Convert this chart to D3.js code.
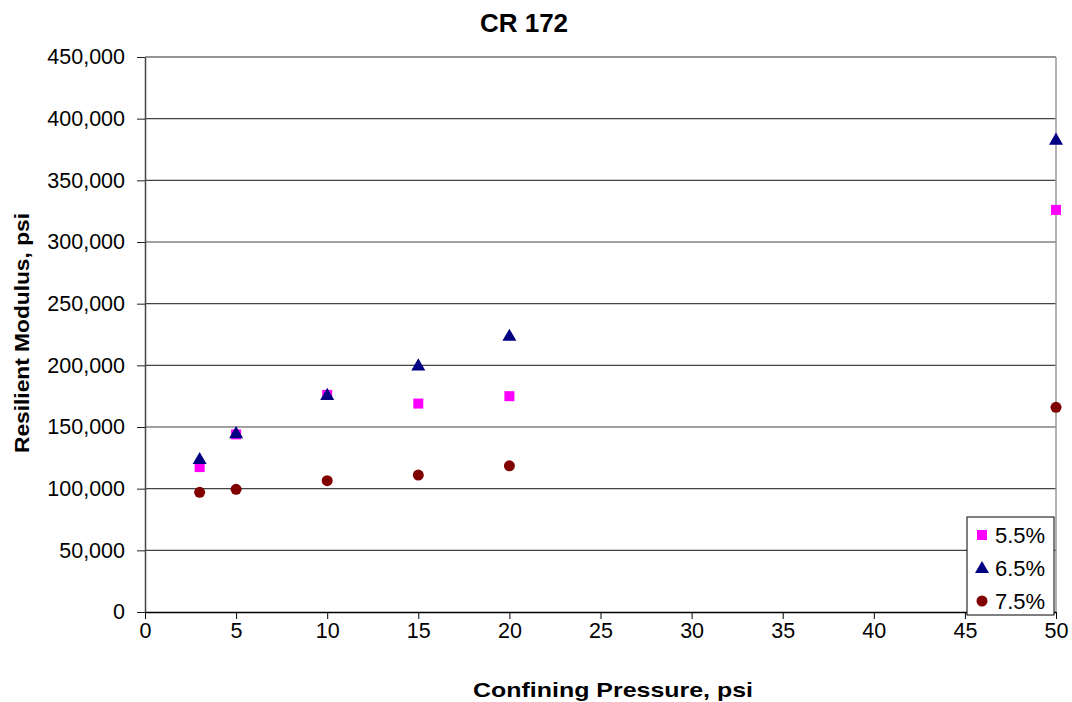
<!DOCTYPE html>
<html><head><meta charset="utf-8">
<script src="https://cdn.jsdelivr.net/npm/d3@7/dist/d3.min.js"></script>
<style>body{margin:0;background:#fff;font-family:"Liberation Sans",Arial,sans-serif;}</style>
</head><body><svg id="c" width="1072" height="702"></svg>
<script>
const xPressure = [3, 5, 10, 15, 20, 50];
const s55 = [117500, 144000, 176000, 169000, 175000, 326000];
const s65 = [124000, 145000, 176000, 200000, 224000, 383000];
const s75 = [97000, 99500, 106500, 111000, 118500, 166000];
const seriesNames = ["5.5%", "6.5%", "7.5%"];
const xTicks = [0,5,10,15,20,25,30,35,40,45,50];
const yTicks = [0,50000,100000,150000,200000,250000,300000,350000,400000,450000];

const svg = d3.select("#c");
const L=145, R=1056, T=57, B=612;
const x = d3.scaleLinear().domain([0,50]).range([L,R]);
const y = d3.scaleLinear().domain([0,450000]).range([B,T]);
const fmt = d3.format(",");
const FF = "Liberation Sans, Arial, sans-serif";

// gridlines
svg.append("g").selectAll("line").data(yTicks.filter(d=>d>0)).join("line")
  .attr("x1",L).attr("x2",R).attr("y1",d=>y(d)).attr("y2",d=>y(d))
  .attr("stroke","#444").attr("stroke-width",1.2);
svg.append("line").attr("x1",R).attr("x2",R).attr("y1",T).attr("y2",B).attr("stroke","#999").attr("stroke-width",1.5);
svg.append("line").attr("x1",L).attr("x2",R).attr("y1",T).attr("y2",T).attr("stroke","#888").attr("stroke-width",1.2);

const yAx = svg.append("g").attr("transform",`translate(${L},0)`)
  .call(d3.axisLeft(y).tickValues(yTicks).tickFormat(fmt).tickSize(8).tickSizeOuter(0));
yAx.select(".domain").attr("stroke","#444").attr("stroke-width",1.5);
yAx.selectAll("line").attr("stroke","#222");
yAx.selectAll("text").attr("font-size",21.5).attr("font-family",FF).attr("fill","#000").attr("x",-20);

const xAx = svg.append("g").attr("transform",`translate(0,${B})`)
  .call(d3.axisBottom(x).tickValues(xTicks).tickSize(7).tickSizeOuter(0));
xAx.select(".domain").attr("stroke","#000").attr("stroke-width",1.5);
xAx.selectAll("line").attr("stroke","#000");
xAx.selectAll("text").attr("font-size",21.5).attr("font-family",FF).attr("fill","#000").attr("y",11);

// points
const g = svg.append("g");
g.selectAll("rect.s55").data(xPressure.map((p,i)=>[p,s55[i]])).join("rect")
  .attr("x",d=>x(d[0])-5).attr("y",d=>y(d[1])-5).attr("width",10).attr("height",10).attr("fill","#ff00ff");
const tri = d3.symbol().type(d3.symbolTriangle).size(85);
g.selectAll("path.s65").data(xPressure.map((p,i)=>[p,s65[i]])).join("path")
  .attr("d",tri).attr("transform",d=>`translate(${x(d[0])},${y(d[1])+1})`).attr("fill","#000080");
g.selectAll("circle.s75").data(xPressure.map((p,i)=>[p,s75[i]])).join("circle")
  .attr("cx",d=>x(d[0])).attr("cy",d=>y(d[1])).attr("r",5.5).attr("fill","#800000");

// title & labels
svg.append("text").attr("x",524).attr("y",32).attr("text-anchor","middle").attr("font-size",26).attr("font-weight","bold").text("CR 172");
svg.append("text").attr("x",613).attr("y",697).attr("text-anchor","middle").attr("font-size",21).attr("font-weight","bold")
  .attr("textLength",280).attr("lengthAdjust","spacingAndGlyphs").text("Confining Pressure, psi");
svg.append("text").attr("transform","translate(29,333) rotate(-90)").attr("text-anchor","middle").attr("font-size",21).attr("font-weight","bold")
  .attr("textLength",240).attr("lengthAdjust","spacingAndGlyphs").text("Resilient Modulus, psi");

// legend
const lg = svg.append("g");
lg.append("rect").attr("x",967).attr("y",517).attr("width",87).attr("height",98).attr("fill","#fff").attr("stroke","#000").attr("stroke-width",1);
const ly = [535, 568, 601];
lg.append("rect").attr("x",977).attr("y",ly[0]-5).attr("width",10).attr("height",10).attr("fill","#ff00ff");
lg.append("path").attr("d",tri).attr("transform",`translate(982,${ly[1]+1})`).attr("fill","#000080");
lg.append("circle").attr("cx",982).attr("cy",ly[2]).attr("r",5.5).attr("fill","#800000");
lg.selectAll("text").data(seriesNames).join("text").attr("x",995).attr("y",(d,i)=>ly[i]+8).attr("font-size",22).text(d=>d);
</script></body></html>
